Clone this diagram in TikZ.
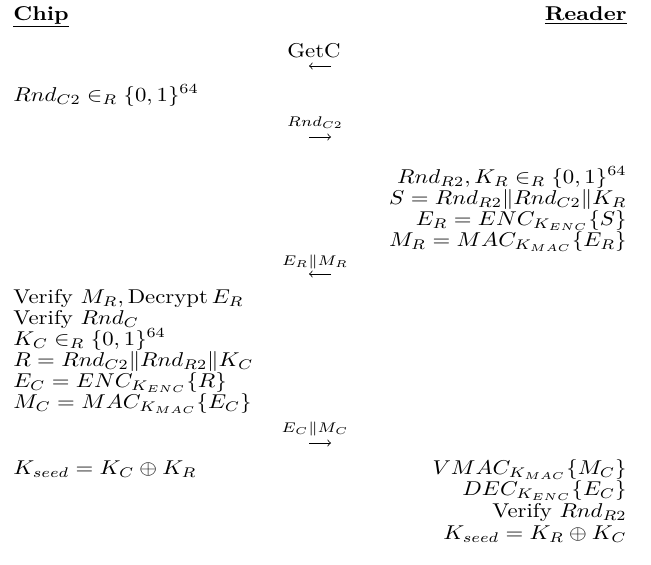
\documentclass[tikz,border=0pt]{standalone}
\usepackage{amsmath}
\usepackage{graphicx}
\newcommand\hx[1]{\scalebox{1.14}[1]{#1}}
\begin{document}
\begin{tikzpicture}[x=0.5pt,y=-0.5pt,
  lft/.style={anchor=base west,inner sep=0pt},
  rgt/.style={anchor=base east,inner sep=0pt},
  lbl/.style={anchor=base,inner sep=0pt},
  msg/.style={-to,line width=0.4pt}]
\useasboundingbox (0,0) rectangle (651,564);
% headers
\node[lft] (chip) at (13,20) {\hx{$\underline{\textbf{Chip}}$}};
\node[rgt] (reader) at (627,20) {\hx{$\underline{\textbf{Reader}}$}};
% message 1
\node[lbl] (m1) at (314,57) {\hx{GetC}};
\coordinate (m1a) at (331,66); \coordinate (m1b) at (309,66);
\draw[msg] (m1a) -- (m1b);
% chip step 1
\node[lft] (c1) at (13,101) {\hx{$Rnd_{C2}\in_R\{0,1\}^{64}$}};
% message 2
\node[lbl] (m2) at (315,126) {\hx{$\scriptstyle Rnd_{C2}$}};
\coordinate (m2a) at (309,137); \coordinate (m2b) at (331,137);
\draw[msg] (m2a) -- (m2b);
% reader step
\node[rgt] (r1) at (627,183) {\hx{$Rnd_{R2},K_R\in_R\{0,1\}^{64}$}};
\node[rgt] (r2) at (627,204) {\hx{$S=Rnd_{R2}\|Rnd_{C2}\|K_R$}};
\node[rgt] (r3) at (627,225) {\hx{$E_R=ENC_{K_{ENC}}\{S\}$}};
\node[rgt] (r4) at (627,246) {\hx{$M_R=MAC_{K_{MAC}}\{E_R\}$}};
% message 3
\node[lbl] (m3) at (315,265) {\hx{$\scriptstyle E_R\|M_R$}};
\coordinate (m3a) at (331,274); \coordinate (m3b) at (309,274);
\draw[msg] (m3a) -- (m3b);
% chip step 2
\node[lft] (c2) at (13,303) {\hx{Verify $M_R,\mathrm{Decrypt}\,E_R$}};
\node[lft] (c3) at (13,324) {\hx{Verify $Rnd_C$}};
\node[lft] (c4) at (13,345) {\hx{$K_C\in_R\{0,1\}^{64}$}};
\node[lft] (c5) at (13,366) {\hx{$R=Rnd_{C2}\|Rnd_{R2}\|K_C$}};
\node[lft] (c6) at (13,387) {\hx{$E_C=ENC_{K_{ENC}}\{R\}$}};
\node[lft] (c7) at (13,408) {\hx{$M_C=MAC_{K_{MAC}}\{E_C\}$}};
% message 4
\node[lbl] (m4) at (315,432) {\hx{$\scriptstyle E_C\|M_C$}};
\coordinate (m4a) at (309,443); \coordinate (m4b) at (331,443);
\draw[msg] (m4a) -- (m4b);
% final
\node[lft] (c8) at (13,474) {\hx{$K_{seed}=K_C\oplus K_R$}};
\node[rgt] (r5) at (627,474) {\hx{$VMAC_{K_{MAC}}\{M_C\}$}};
\node[rgt] (r6) at (627,495) {\hx{$DEC_{K_{ENC}}\{E_C\}$}};
\node[rgt] (r7) at (627,517) {\hx{Verify $Rnd_{R2}$}};
\node[rgt] (r8) at (627,539) {\hx{$K_{seed}=K_R\oplus K_C$}};
\end{tikzpicture}
\end{document}
